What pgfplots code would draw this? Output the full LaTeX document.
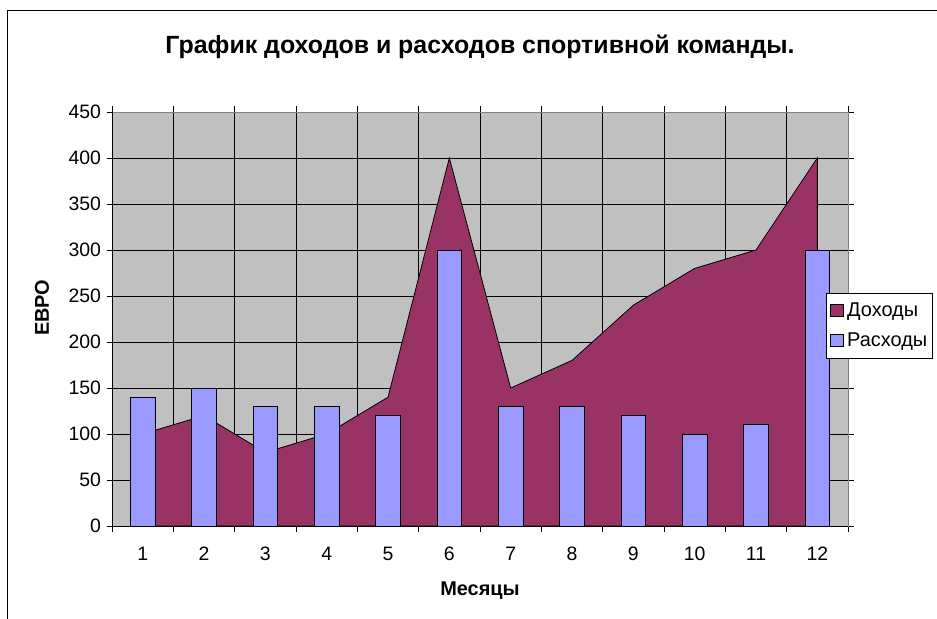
\documentclass[border=0pt]{standalone}
\usepackage{pgfplots}
\pgfplotsset{compat=1.18}
\usepackage{fontspec}
\setmainfont{Liberation Sans}
\definecolor{plotbg}{HTML}{C0C0C0}
\definecolor{incomec}{HTML}{993366}
\definecolor{expc}{HTML}{9999FF}
\definecolor{frameg}{HTML}{808080}
\begin{document}
\begin{tikzpicture}[x=1bp,y=1bp]
\path[use as bounding box] (0,0) rectangle (937,-619);
\draw[black, line width=0.8bp] (7,-619) -- (7,-10) -- (937,-10);
\node[font=\fontsize{25}{28}\selectfont\bfseries] at (480,-47) {График доходов и расходов спортивной команды.};
\begin{axis}[
  at={(112bp,-526bp)}, anchor=south west,
  scale only axis, width=736bp, height=414bp,
  xmin=0.5, xmax=12.5, ymin=0, ymax=450,
  xtick={1,...,12},
  minor xtick={0.5,1.5,...,12.5},
  ytick={0,50,...,450},
  major x tick style={draw=none},
  minor x tick style={black, line width=0.6bp},
  y tick style={black, line width=0.6bp},
  tick align=center,
  major tick length=11bp, minor tick length=12bp,
  xminorgrids, ymajorgrids,
  grid style={black, line width=0.6bp},
  minor grid style={black, line width=0.6bp},
  axis line style={frameg, line width=0.8bp},
  axis background/.style={fill=plotbg},
  /pgf/number format/assume math mode=true,
  tick label style={font=\fontsize{19.5}{22}\selectfont},
  xticklabel style={yshift=-12bp},
  yticklabel style={xshift=-2bp},
  xlabel={Месяцы}, ylabel={ЕВРО},
  label style={font=\fontsize{20}{22}\selectfont\bfseries},
  xlabel style={at={(axis description cs:0.5,-0.157)}, anchor=center},
  ylabel style={at={(axis description cs:-0.095,0.527)}, anchor=center},
  legend style={at={(0.970,0.484)}, anchor=west, draw=black, fill=white,
    font=\fontsize{20}{22}\selectfont, row sep=11bp, inner xsep=3bp, inner ysep=8bp,
    line width=0.6bp},
  legend cell align=left,
  legend image code/.code={\path[draw=none, fill=none] (0bp,0bp) -- (16bp,0bp); \draw[#1, draw=black, line width=0.6bp] (1bp,-6bp) rectangle (14bp,6bp);},
]
\addplot[fill=incomec, draw=black, line width=0.8bp] coordinates {
(1,100) (2,120) (3,80) (4,100) (5,140) (6,400) (7,150) (8,180) (9,240) (10,280) (11,300) (12,400)
} \closedcycle;
\addlegendentry{Доходы}
\addplot[ybar, bar width=0.4, fill=expc, draw=black, line width=0.8bp] coordinates {
(1,140) (2,150) (3,130) (4,130) (5,120) (6,300) (7,130) (8,130) (9,120) (10,100) (11,110) (12,300)
};
\addlegendentry{Расходы}
\draw[black, line width=0.8bp] (rel axis cs:0,1) -- (rel axis cs:0,0) -- (rel axis cs:1,0);
\end{axis}
\end{tikzpicture}
\end{document}
